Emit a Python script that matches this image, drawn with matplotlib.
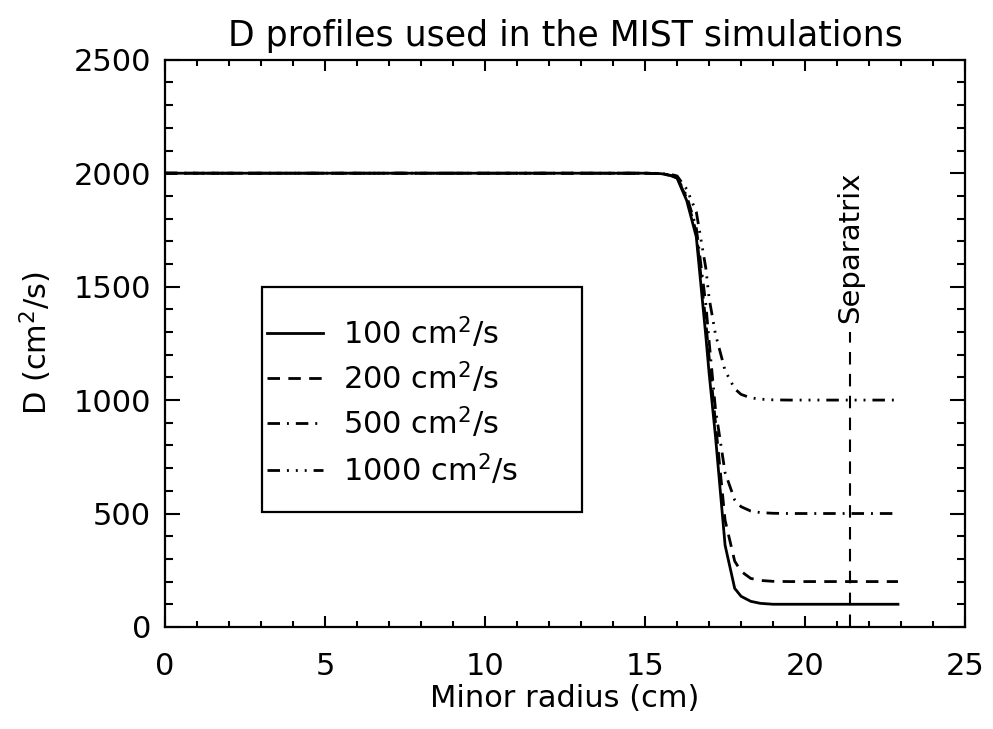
import numpy as np
import matplotlib.pyplot as plt
from matplotlib.ticker import MultipleLocator
from matplotlib.patches import Rectangle

# profiles
radius = [0.0, 15.0, 15.5, 15.8, 16.0, 16.3, 16.6, 16.9, 17.0, 17.2, 17.5, 17.8, 18.0, 18.3, 18.6, 19.0, 19.5, 22.9]
d100 = [2000, 2000, 1998, 1990, 1978, 1880, 1720, 1280, 1120, 840, 360, 170, 135, 113, 104, 100, 100, 100]
d200 = [2000, 2000, 1998, 1990, 1980, 1890, 1740, 1340, 1190, 900, 470, 290, 245, 214, 205, 201, 200, 200]
d500 = [2000, 2000, 1998, 1992, 1982, 1900, 1760, 1420, 1260, 960, 680, 560, 530, 511, 504, 501, 500, 500]
d1000 = [2000, 2000, 1999, 1995, 1988, 1930, 1830, 1580, 1450, 1290, 1130, 1050, 1025, 1010, 1004, 1001, 1000, 1000]
labels = ['100 cm$^2$/s', '200 cm$^2$/s', '500 cm$^2$/s', '1000 cm$^2$/s']
sep_r = 21.4
sep_top = 1300

plt.rcParams['font.family'] = 'DejaVu Sans'
fig = plt.figure(figsize=(9.93, 7.29), dpi=100)
ax = fig.add_axes([0.166, 0.14, 0.806, 0.778])

lw = 2.0
styles = ['-', (0, (4.5, 3)), (0, (4.5, 2.5, 0.7, 2.5)), (0, (4.5, 2.5, 0.7, 2.5, 0.7, 2.5, 0.7, 2.5))]
series = [d100, d200, d500, d1000]
for d, st in zip(series, styles):
    ax.plot(radius, d, color='k', lw=lw, ls=st)

ax.plot([sep_r, sep_r], [0, sep_top], color='k', lw=1.5, ls=(0, (6, 4.5)))
ax.text(sep_r, 1340, 'Separatrix', rotation=90, ha='center', va='bottom', fontsize=21)

# legend box drawn by hand (IDL style)
ax.add_patch(Rectangle((0.121, 0.203), 0.4, 0.397, transform=ax.transAxes,
                       fill=False, ec='k', lw=1.6, zorder=5))
rows = [0.5185, 0.439, 0.3598, 0.2769]
for yy, st, lab in zip(rows, styles, labels):
    ax.plot([0.1275, 0.197], [yy, yy], transform=ax.transAxes, color='k', lw=lw, ls=st)
    ax.text(0.222, yy, lab, transform=ax.transAxes, va='center', ha='left', fontsize=22)

ax.set_xlim(0, 25)
ax.set_ylim(0, 2500)
ax.xaxis.set_major_locator(MultipleLocator(5))
ax.xaxis.set_minor_locator(MultipleLocator(1))
ax.yaxis.set_major_locator(MultipleLocator(500))
ax.yaxis.set_minor_locator(MultipleLocator(100))
ax.tick_params(which='both', direction='in', top=True, right=True, width=1.5, labelsize=22)
ax.tick_params(axis='x', which='major', length=8, pad=18)
ax.tick_params(axis='x', which='minor', length=4)
ax.tick_params(axis='y', which='major', length=11, pad=10)
ax.tick_params(axis='y', which='minor', length=6)
for s in ax.spines.values():
    s.set_linewidth(1.6)

ax.set_xlabel('Minor radius (cm)', fontsize=22, labelpad=2)
ax.set_ylabel('D (cm$^2$/s)', fontsize=22, labelpad=14)
ax.set_title('D profiles used in the MIST simulations', fontsize=25, pad=10)

fig.savefig('out.png', dpi=100)
